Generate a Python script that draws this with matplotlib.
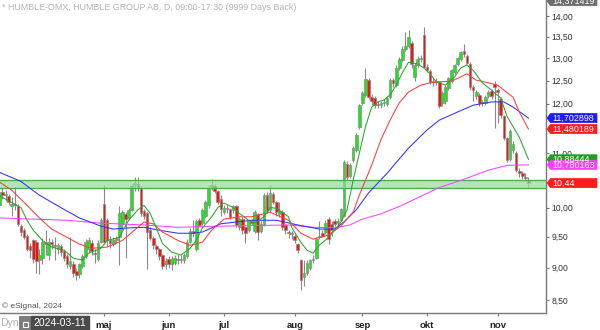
import numpy as np
import pandas as pd
import matplotlib
matplotlib.use("Agg")
import matplotlib.pyplot as plt
from matplotlib.patches import Polygon, Rectangle
from matplotlib.transforms import ScaledTranslation, Affine2D
from matplotlib.ticker import FixedLocator, FuncFormatter, NullLocator

plt.rcParams['font.family'] = ['Liberation Sans', 'DejaVu Sans']

# ---------------- data ----------------
holidays = ['2024-03-29', '2024-04-01', '2024-05-01', '2024-05-09', '2024-06-06', '2024-06-21']
first_day = '2024-03-11'
last_day = '2024-11-15'

opens = [10.20,
    10.04, 10.28, 10.22, 10.20, 10.02, 10.06, 10.03, 9.68, 9.62, 9.52,
    9.34, 9.44, 9.42, 9.12, 9.15, 9.40, 9.20, 9.42, 9.36, 9.30,
    9.34, 9.26, 9.18, 9.02, 9.05, 8.95, 8.90, 9.03, 9.18, 9.30,
    9.40, 9.24, 9.14, 9.42, 10.06, 9.78, 9.44, 9.38, 9.44, 9.50,
    9.72, 9.88, 9.82, 9.96, 10.40, 10.42, 10.35, 9.94, 9.90, 9.62,
    9.48, 9.34, 9.30, 9.20, 9.06, 9.14, 9.06, 9.08, 9.14, 9.12,
    9.12, 9.18, 9.42, 9.60, 9.30, 9.78, 9.74, 9.86, 10.04, 10.38,
    10.38, 10.30, 10.15, 9.92, 10.00, 9.98, 9.96, 10.02, 9.66, 9.80,
    9.66, 9.62, 9.76, 9.60, 9.88, 9.60, 9.72, 10.22, 9.96, 10.24,
    10.10, 9.88, 9.92, 9.70, 9.58, 9.56, 9.52, 9.38, 9.12, 8.86,
    8.92, 9.00, 9.12, 9.16, 9.50, 9.56, 9.58, 9.80, 9.72, 9.76,
    9.74, 9.78, 9.86, 10.80, 10.58, 10.87, 11.06, 11.52, 12.02, 12.19,
    12.51, 12.14, 12.12, 12.00, 11.98, 12.02, 12.00, 12.14, 12.51, 12.40,
    12.78, 12.96, 13.22, 13.28, 13.36, 12.58, 12.85, 12.98, 13.54, 12.80,
    12.72, 12.46, 12.48, 12.46, 12.02, 12.06, 12.34, 12.48, 12.68, 12.86,
    12.98, 13.16, 13.06, 12.88, 12.36, 12.16, 12.19, 12.04, 12.02, 12.16,
    12.28, 12.42, 12.30, 12.10, 11.74, 11.30, 10.90, 11.06, 11.00, 10.66,
    10.62, 10.56, 10.50]

highs = [10.30,
    10.33, 10.35, 10.32, 10.25, 10.18, 10.36, 10.06, 9.72, 9.64, 9.55,
    9.40, 9.46, 9.45, 9.30, 9.48, 9.62, 9.48, 9.46, 9.50, 9.40,
    9.38, 9.30, 9.22, 9.50, 9.10, 9.00, 9.08, 9.22, 9.46, 9.50,
    9.44, 9.30, 9.44, 9.82, 10.40, 9.82, 9.52, 9.50, 9.52, 10.03,
    9.96, 9.92, 10.00, 10.42, 10.55, 10.55, 10.38, 9.98, 9.92, 9.66,
    9.52, 9.38, 9.32, 9.22, 9.16, 9.18, 9.18, 9.20, 9.22, 9.20,
    9.24, 9.46, 9.64, 9.78, 9.80, 9.82, 10.00, 10.14, 10.38, 10.52,
    10.42, 10.32, 10.22, 10.05, 10.04, 10.00, 10.05, 10.04, 9.84, 9.84,
    9.68, 9.80, 9.80, 9.96, 9.90, 9.76, 10.26, 10.28, 10.40, 10.28,
    10.12, 10.10, 9.96, 9.72, 9.62, 9.60, 9.54, 9.40, 9.14, 9.12,
    9.12, 9.14, 9.20, 9.50, 9.76, 9.62, 9.78, 9.84, 9.76, 9.80,
    9.82, 10.00, 10.88, 10.86, 10.82, 11.14, 11.40, 12.00, 12.28, 12.78,
    12.56, 12.20, 12.16, 12.06, 12.06, 12.10, 12.16, 12.56, 12.56, 12.84,
    13.02, 13.28, 13.62, 13.66, 13.40, 12.90, 13.04, 13.08, 13.74, 12.86,
    12.76, 12.56, 12.56, 12.50, 12.28, 12.40, 12.58, 12.76, 12.88, 13.02,
    13.16, 13.34, 13.10, 12.92, 12.40, 12.30, 12.22, 12.08, 12.18, 12.30,
    12.32, 12.48, 12.34, 12.14, 11.76, 11.32, 11.48, 11.24, 11.04, 10.72,
    10.66, 10.62, 10.56]

lows = [10.05,
    10.00, 10.15, 10.12, 10.05, 9.85, 9.96, 9.68, 9.52, 9.46, 9.26,
    9.15, 9.08, 8.92, 8.90, 9.05, 9.20, 9.12, 9.30, 9.12, 9.22,
    9.18, 9.10, 9.00, 8.98, 8.86, 8.80, 8.84, 9.00, 9.15, 9.25,
    9.20, 9.08, 9.10, 9.40, 9.38, 9.34, 9.32, 9.34, 9.40, 9.04,
    9.62, 9.15, 9.78, 9.94, 10.30, 10.30, 9.86, 9.80, 8.98, 9.44,
    9.30, 9.22, 9.12, 8.98, 8.98, 9.00, 8.96, 9.04, 9.06, 9.08,
    9.08, 9.16, 9.40, 9.50, 9.26, 9.66, 9.70, 9.82, 10.00, 10.32,
    10.26, 10.06, 9.86, 9.88, 9.90, 9.80, 9.90, 9.66, 9.62, 9.55,
    9.40, 9.58, 9.70, 9.56, 9.45, 9.56, 9.68, 9.90, 9.92, 10.06,
    9.86, 9.84, 9.62, 9.54, 9.48, 9.46, 9.40, 9.24, 8.65, 8.72,
    8.88, 8.96, 9.08, 9.14, 9.46, 9.50, 9.54, 9.38, 9.52, 9.68,
    9.70, 9.76, 9.84, 10.50, 10.54, 10.84, 11.02, 11.48, 11.98, 12.14,
    12.10, 11.98, 11.92, 11.92, 11.92, 11.96, 11.96, 12.10, 12.36, 12.36,
    12.74, 12.92, 13.16, 13.24, 12.78, 12.50, 12.80, 12.92, 12.78, 12.70,
    12.42, 12.38, 12.40, 11.92, 11.96, 12.00, 12.30, 12.44, 12.64, 12.82,
    12.94, 13.02, 12.86, 12.30, 12.06, 12.10, 11.96, 11.96, 11.98, 12.12,
    12.10, 11.50, 11.60, 11.70, 11.26, 10.84, 10.86, 11.00, 10.64, 10.56,
    10.52, 10.48, 10.36]

closes = [10.10,
    10.28, 10.22, 10.25, 10.10, 10.06, 10.04, 9.72, 9.58, 9.50, 9.30,
    9.28, 9.14, 9.10, 9.20, 9.42, 9.38, 9.42, 9.38, 9.34, 9.36,
    9.25, 9.16, 9.05, 9.10, 8.92, 8.88, 9.05, 9.18, 9.42, 9.45,
    9.26, 9.22, 9.40, 9.78, 9.42, 9.44, 9.40, 9.44, 9.48, 9.90,
    9.92, 9.80, 9.96, 10.38, 10.44, 10.36, 9.90, 9.86, 9.58, 9.48,
    9.36, 9.30, 9.18, 9.02, 9.10, 9.06, 9.14, 9.16, 9.12, 9.14,
    9.20, 9.42, 9.60, 9.56, 9.76, 9.70, 9.96, 10.10, 10.34, 10.40,
    10.30, 10.10, 9.98, 10.00, 9.98, 9.84, 10.02, 9.70, 9.80, 9.62,
    9.56, 9.78, 9.74, 9.92, 9.58, 9.72, 10.22, 9.94, 10.26, 10.10,
    9.92, 9.94, 9.66, 9.62, 9.56, 9.54, 9.44, 9.28, 8.80, 8.92,
    9.08, 9.12, 9.14, 9.46, 9.52, 9.52, 9.74, 9.46, 9.62, 9.72,
    9.76, 9.98, 10.83, 10.55, 10.77, 11.10, 11.36, 11.97, 12.23, 12.53,
    12.14, 12.06, 11.98, 11.98, 12.02, 12.04, 12.12, 12.51, 12.45, 12.78,
    12.98, 13.21, 13.28, 13.50, 12.86, 12.85, 12.98, 13.00, 12.81, 12.74,
    12.46, 12.48, 12.46, 11.96, 12.24, 12.36, 12.56, 12.73, 12.85, 13.00,
    13.14, 13.10, 12.90, 12.36, 12.30, 12.26, 12.02, 12.02, 12.14, 12.26,
    12.16, 12.36, 12.26, 11.76, 11.30, 10.88, 11.44, 11.18, 10.68, 10.62,
    10.58, 10.54, 10.44]

# moving averages (bar number, value)
ma_fast_bar = [1, 2, 5, 8, 10, 12, 15, 18, 22, 25, 28, 30, 34, 36, 40, 43, 46, 48, 50, 52,
               54, 57, 60, 63, 65, 67, 70, 72, 74, 77, 79, 82, 84, 87, 89, 91, 95, 96, 99, 101,
               103, 105, 108, 110, 112, 114, 116, 118, 120, 122, 124, 126, 128, 130, 132, 134,
               137, 139, 141, 143, 146, 149, 151, 153, 155, 158, 161, 164, 166, 170, 173]
ma_fast = [10.22, 10.18, 10.09, 10.00, 9.78, 9.61, 9.44, 9.33, 9.28, 9.15, 9.12, 9.23, 9.31, 9.44,
           9.49, 9.78, 9.96, 10.04, 9.90, 9.65, 9.39, 9.25, 9.20, 9.31, 9.44, 9.65, 9.84, 10.00,
           10.08, 10.00, 9.90, 9.78, 9.73, 9.84, 10.00, 9.99, 9.84, 9.66, 9.41, 9.28, 9.23, 9.36,
           9.49, 9.61, 9.75, 9.96, 10.49, 11.00, 11.52, 11.93, 12.04, 12.08, 12.19, 12.40, 12.67,
           12.91, 12.87, 12.78, 12.65, 12.47, 12.40, 12.58, 12.78, 12.85, 12.73, 12.45, 12.29,
           12.12, 11.74, 11.32, 10.884]

ma_mid_bar = [1, 5, 10, 14, 18, 23, 27, 31, 36, 41, 46, 48, 51, 54, 59, 63, 67, 70, 74, 79,
              83, 89, 95, 99, 103, 108, 112, 116, 118, 122, 125, 128, 131, 134, 138, 141, 144,
              148, 151, 153, 156, 160, 163, 165, 168, 170, 173]
ma_mid = [10.46, 10.31, 10.04, 9.82, 9.63, 9.49, 9.38, 9.31, 9.33, 9.44, 9.66, 9.75, 9.72, 9.58,
          9.44, 9.36, 9.41, 9.61, 9.80, 9.84, 9.84, 9.92, 9.78, 9.56, 9.46, 9.53, 9.68, 9.92,
          10.22, 10.77, 11.26, 11.66, 12.02, 12.25, 12.40, 12.45, 12.47, 12.49, 12.58, 12.65,
          12.51, 12.45, 12.40, 12.29, 12.14, 11.83, 11.480]

ma_slow_bar = [1, 8, 14, 21, 27, 34, 38, 43, 48, 53, 59, 64, 67, 73, 83, 91, 98, 105, 110, 113,
               117, 121, 127, 134, 140, 144, 150, 155, 161, 165, 168, 173]
ma_slow = [10.64, 10.47, 10.22, 10.00, 9.82, 9.68, 9.63, 9.65, 9.66, 9.61, 9.56, 9.56, 9.58, 9.72,
           9.78, 9.78, 9.70, 9.63, 9.63, 9.75, 9.96, 10.26, 10.62, 11.10, 11.46, 11.66, 11.83,
           11.97, 12.04, 12.04, 11.93, 11.703]

ma_long_bar = [1, 12, 23, 34, 48, 59, 73, 95, 103, 110, 115, 119, 125, 131, 138, 144, 151, 160, 166, 173]
ma_long = [9.82, 9.80, 9.78, 9.73, 9.70, 9.66, 9.68, 9.70, 9.66, 9.65, 9.70, 9.80, 9.89, 10.02,
           10.20, 10.36, 10.49, 10.68, 10.77, 10.780]

zone_low, zone_high = 10.35, 10.49
month_names = ['maj', 'jun', 'jul', 'aug', 'sep', 'okt', 'nov']
month_nums = [5, 6, 7, 8, 9, 10, 11]
ytick_vals = [8.5, 9.0, 9.5, 10.0, 11.0, 12.0, 12.5, 13.0, 13.5, 14.0]
price_labels = [  # value, text, box colour
    (14.371419, '14,371419', '#6e6e6e'),
    (11.702898, '11,702898', '#1c1cff'),
    (11.480189, '11,480189', '#ff1c1c'),
    (10.88444, '10,88444', '#1f9e1f'),
    (10.780163, '10,780163', '#ff3cff'),
    (10.44, '10,44', '#ff1c1c'),
]

# ---------------- figure ----------------
dates = pd.bdate_range(first_day, last_day)
dates = dates[~dates.isin(pd.to_datetime(holidays))]
o = np.array(opens); h = np.array(highs); l = np.array(lows); c = np.array(closes)
idx = np.arange(len(o))

fig = plt.figure(figsize=(6, 3.3), dpi=100)
ax = fig.add_axes([0, 17 / 330, 546 / 600, 313 / 330])
ax.set_yscale('log')

# zone
ax.axhspan(zone_low, zone_high, facecolor='#9ad69a', alpha=0.7, edgecolor='none', zorder=4)
ax.axhline(zone_low, color='#4fae4f', lw=1.0, zorder=4.1)
ax.axhline(zone_high, color='#4fae4f', lw=1.0, zorder=4.1)

# candles
ax.vlines(idx, l, h, color='#8a8a8a', lw=0.8, zorder=2)
up = c >= o
body_lo = np.minimum(o, c)
body_h = np.maximum(np.abs(c - o), 0.01)
ax.bar(idx[up], body_h[up], bottom=body_lo[up], width=0.86, color='#1ee61e',
       edgecolor='#8a8a8a', linewidth=0.5, zorder=3)
ax.bar(idx[~up], body_h[~up], bottom=body_lo[~up], width=0.86, color='#f01414',
       edgecolor='#8a8a8a', linewidth=0.5, zorder=3)

# moving averages
ax.plot(ma_long_bar, ma_long, color='#ff44ff', lw=0.75, zorder=5)
ax.plot(ma_slow_bar, ma_slow, color='#3030ff', lw=0.75, zorder=5)
ax.plot(ma_mid_bar, ma_mid, color='#ff3c3c', lw=0.75, zorder=5)
ax.plot(ma_fast_bar, ma_fast, color='#2aa62a', lw=0.75, zorder=5)

# axes styling
ax.set_xlim(1.19, 178.7)
ax.set_ylim(8.31, 14.40)
for s in ['top', 'left']:
    ax.spines[s].set_visible(False)
for s in ['right', 'bottom']:
    ax.spines[s].set_color('#7a7a7a')
    ax.spines[s].set_linewidth(1.0)

tick_idx = [int(np.argmax(dates.month == m)) for m in month_nums]
ax.set_xticks(tick_idx)
ax.set_xticklabels(month_names, fontsize=6.8, fontweight='bold', color='#222222')
ax.tick_params(axis='x', direction='out', length=2.5, color='#7a7a7a', pad=3)

ax.yaxis.tick_right()
ax.yaxis.set_major_locator(FixedLocator(ytick_vals))
ax.yaxis.set_minor_locator(NullLocator())
ax.yaxis.set_major_formatter(FuncFormatter(lambda v, p: f"{v:.2f}".replace('.', ',')))
ax.tick_params(axis='y', direction='out', length=2.5, color='#7a7a7a', pad=1.2,
               labelsize=6.2, labelcolor='#333333')

# price tags on the right axis
for val, txt, col in price_labels:
    anchor = ScaledTranslation(1.0, val, ax.get_yaxis_transform())
    trans = Affine2D().scale(fig.dpi / 100.0) + anchor
    poly = Polygon([(1, 0), (4.5, 4.6), (51, 4.6), (51, -4.6), (4.5, -4.6)], closed=True,
                   transform=trans, facecolor=col, edgecolor=col, lw=0.5, zorder=10)
    fig.add_artist(poly)
    fig.text(6, -0.3, txt, transform=trans, fontsize=6.4, color='white',
             va='center', ha='left', zorder=11)

# header / footer texts
fig.text(2 / 600, 1 - 7.5 / 330, '* HUMBLE-OMX, HUMBLE GROUP AB, D, 09:00-17:30 (9999 Days Back)',
         fontsize=6.4, color='#b4b4b4', va='center', ha='left')
fig.text(2 / 600, 1 - 306 / 330, '\u00a9 eSignal, 2024', fontsize=6.0, color='#555555',
         va='center', ha='left')
fig.text(0 / 600, 1 - 323 / 330, 'Dyn', fontsize=7.5, color='#b0b0b0', va='center', ha='left')
fig.add_artist(Rectangle((19 / 600, 1 - 330 / 330), 12 / 600, 14 / 330,
                         transform=fig.transFigure, facecolor='#7d7d7d', edgecolor='#666666', lw=0.5))
fig.add_artist(Rectangle((22.5 / 600, 1 - 327 / 330), 5 / 600, 5 / 330,
                         transform=fig.transFigure, facecolor='none', edgecolor='white', lw=0.8))
fig.text(60 / 600, 1 - 323.5 / 330, '2024-03-11', fontsize=7.5, color='white', va='center', ha='center',
         bbox=dict(boxstyle='square,pad=0.25', facecolor='#4a4a4a', edgecolor='#4a4a4a'))

fig.savefig('out.png', dpi=100)
